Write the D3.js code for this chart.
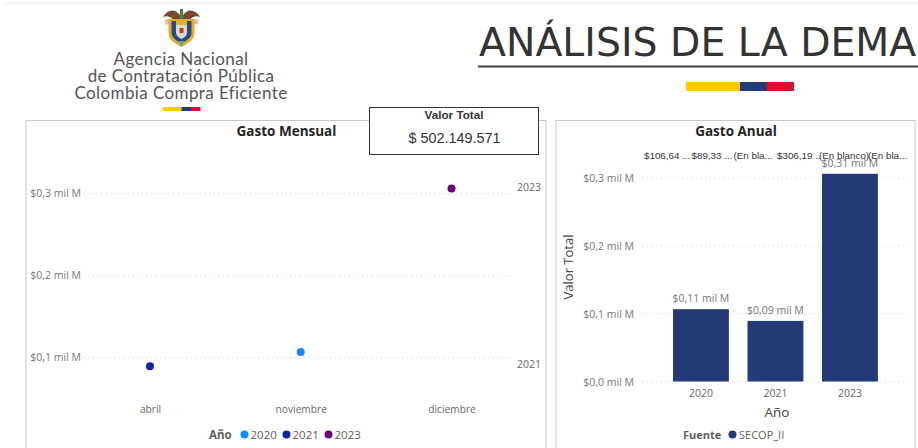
<!DOCTYPE html>
<html>
<head>
<meta charset="utf-8">
<script src="https://cdn.jsdelivr.net/npm/d3@7"></script>
<style>
  html, body { margin: 0; padding: 0; background: #fff; overflow: hidden; }
  text { font-family: "Open Sans", "Noto Sans", sans-serif; }
</style>
</head>
<body>
<div id="chart"></div>
<script>
// Gasto Mensual
const months = ["abril", "noviembre", "diciembre"];
const years = ["2020", "2021", "2023"];
const yearColors = ["#118dff", "#12239e", "#6b007b"];
const monthOfYear = ["noviembre", "abril", "diciembre"];
const yearValues = [0.10664, 0.08933, 0.30619];
const monthlyTicks = [0.1, 0.2, 0.3];

// Gasto Anual
const annualTicks = [0, 0.1, 0.2, 0.3];
const barLabels = ["$0,11 mil M", "$0,09 mil M", "$0,31 mil M"];
const topLabels = ["$106,64 ...", "$89,33 ...", "(En bla...", "$306,19 ..", "(En blanco)", "(En bla..."];
const topLabelStarts = [644, 691.5, 733.5, 777, 819, 868];

const fmtTick = d => "$" + d.toFixed(1).replace(".", ",") + " mil M";

const svg = d3.select("#chart").append("svg")
    .attr("width", 918)
    .attr("height", 448);

// top hairline
svg.append("rect").attr("x", 5).attr("y", 3).attr("width", 913).attr("height", 1).attr("fill", "#ececec");

// logo
const logo = svg.append("g");
const emblem = logo.append("g").attr("transform", "translate(181.5, 0)");
emblem.append("path").attr("d", "M-1,16 C-5,9 -13,8 -18.5,17 C-15,15.5 -12,16 -9,19 L9,19 C12,16 15,15.5 18.5,17 C13,8 5,9 1,16 Z").attr("fill", "#7a4a2c");
emblem.append("path").attr("d", "M-1.5,9 L1.5,9 L2,19 L-2,19 Z").attr("fill", "#4e7a45");
emblem.append("path").attr("d", "M-17,20 L-13,19 L-12,24 L-16,25 Z M17,20 L13,19 L12,24 L16,25 Z").attr("fill", "#e8b9a8");
emblem.append("path").attr("d", "M-13,19 L13,19 L13,33 C13,40 6,44 0,47 C-6,44 -13,40 -13,33 Z").attr("fill", "#e3ae22");
emblem.append("path").attr("d", "M-10,21 L10,21 L10,33 C10,38 4,41 0,44 C-4,41 -10,38 -10,33 Z").attr("fill", "#2b4a8b");
emblem.append("path").attr("d", "M-5.5,21 L5.5,21 L5.5,32 C5.5,36 2,38 0,39 C-2,38 -5.5,36 -5.5,32 Z").attr("fill", "#d9dcc8");
emblem.append("rect").attr("x", -2).attr("y", 28).attr("width", 4).attr("height", 5).attr("fill", "#c0392b");
emblem.append("rect").attr("x", -5.5).attr("y", 21).attr("width", 11).attr("height", 4).attr("fill", "#d9b23a");
emblem.append("path").attr("d", "M-3,41 L3,41 L0,47 Z").attr("fill", "#5fa3a8");

const logoLines = [["Agencia Nacional", 65], ["de Contratación Pública", 82], ["Colombia Compra Eficiente", 98.5]];
logo.selectAll("text.logo").data(logoLines).enter().append("text")
    .attr("class", "logo")
    .attr("x", 181)
    .attr("y", d => d[1])
    .attr("text-anchor", "middle")
    .attr("font-size", 17)
    .attr("letter-spacing", 0.4)
    .attr("fill", "#555")
    .style("font-family", "Lato, sans-serif")
    .text(d => d[0]);

const flag = (x, y, widths, h) => {
    let cx = x;
    ["#ffc800", "#223a78", "#dc0f2e"].forEach((c, i) => {
        svg.append("rect").attr("x", cx).attr("y", y).attr("width", widths[i]).attr("height", h).attr("fill", c);
        cx += widths[i];
    });
};
flag(163, 107, [18.5, 9.5, 9.5], 4);

// page title
svg.append("text")
    .attr("x", 479).attr("y", 56)
    .attr("font-size", 39.4)
    .attr("fill", "#333")
    .style("font-family", "'DejaVu Sans', sans-serif")
    .text("ANÁLISIS DE LA DEMA");
svg.append("rect").attr("x", 478).attr("y", 65.5).attr("width", 440).attr("height", 2).attr("fill", "#444");
flag(686, 82, [54, 27, 27], 9);

// panels
svg.append("rect").attr("x", 26).attr("y", 120.5).attr("width", 520).attr("height", 340)
    .attr("fill", "#fff").attr("stroke", "#c8c8c8");
svg.append("rect").attr("x", 556).attr("y", 120.5).attr("width", 359).attr("height", 340)
    .attr("fill", "#fff").attr("stroke", "#c8c8c8");

// --- Gasto Mensual ---
const xMonth = d3.scalePoint().domain(months).range([150, 451.5]);
const yMonth = d3.scaleLinear().domain([0.1, 0.3]).range([357.5, 193.5]);

svg.append("text").attr("x", 286.5).attr("y", 136)
    .attr("text-anchor", "middle").attr("font-size", 13.5).attr("font-weight", 700).attr("fill", "#252423")
    .text("Gasto Mensual");

const gm = svg.append("g");
gm.selectAll("line.grid").data(monthlyTicks).enter().append("line")
    .attr("x1", 83).attr("x2", 511)
    .attr("y1", d => yMonth(d)).attr("y2", d => yMonth(d))
    .attr("stroke", "#d9d9d9").attr("stroke-dasharray", "1.5 3");
gm.selectAll("text.tick").data(monthlyTicks).enter().append("text")
    .attr("x", 81).attr("y", d => yMonth(d) + 3.5)
    .attr("text-anchor", "end").attr("font-size", 10.5).attr("fill", "#777")
    .text(fmtTick);
gm.selectAll("text.month").data(months).enter().append("text")
    .attr("x", d => xMonth(d) + 0.5).attr("y", 413)
    .attr("text-anchor", "middle").attr("font-size", 10.2).attr("fill", "#666")
    .text(d => d);
gm.selectAll("circle.point").data(years).enter().append("circle")
    .attr("cx", (d, i) => xMonth(monthOfYear[i]))
    .attr("cy", (d, i) => yMonth(yearValues[i]))
    .attr("r", 4)
    .attr("fill", (d, i) => yearColors[i]);

// series end labels, right of the plot
[["2023", 2], ["2021", 1]].forEach(([label, i]) => {
    gm.append("text")
        .attr("x", 517)
        .attr("y", label === "2023" ? yMonth(yearValues[i]) + 3 : 368)
        .attr("font-size", 10.5).attr("fill", "#666")
        .text(label);
});

// legend
svg.append("text").attr("x", 209).attr("y", 438.5)
    .attr("font-size", 11.5).attr("font-weight", 700).attr("fill", "#605e5c").text("Año");
const legendX = d3.scalePoint().domain(years).range([244.5, 328.5]);
svg.selectAll("circle.leg").data(years).enter().append("circle")
    .attr("cx", d => legendX(d)).attr("cy", 434.5).attr("r", 4)
    .attr("fill", (d, i) => yearColors[i]);
svg.selectAll("text.leg").data(years).enter().append("text")
    .attr("x", d => legendX(d) + 6).attr("y", 438.5)
    .attr("font-size", 11.5).attr("fill", "#605e5c").text(d => d);

// --- Valor Total card ---
svg.append("rect").attr("x", 369.5).attr("y", 107.5).attr("width", 169).attr("height", 47)
    .attr("fill", "#fff").attr("stroke", "#333");
svg.append("text").attr("x", 454).attr("y", 119)
    .attr("text-anchor", "middle").attr("font-size", 11.7).attr("font-weight", 700).attr("fill", "#333")
    .style("font-family", "'Liberation Sans', sans-serif").text("Valor Total");
svg.append("text").attr("x", 454.5).attr("y", 142.5)
    .attr("text-anchor", "middle").attr("font-size", 14.4).attr("fill", "#333")
    .style("font-family", "'Liberation Sans', sans-serif").text("$ 502.149.571");

// --- Gasto Anual ---
const xYear = d3.scaleBand().domain(years).range([663.7, 887.2]).paddingInner(0.25).paddingOuter(0.125);
const yYear = d3.scaleLinear().domain([0, 0.3]).range([381.5, 178]);

svg.append("text").attr("x", 736).attr("y", 136)
    .attr("text-anchor", "middle").attr("font-size", 13.5).attr("font-weight", 700).attr("fill", "#252423")
    .text("Gasto Anual");

const ga = svg.append("g");
ga.selectAll("line.grid").data(annualTicks).enter().append("line")
    .attr("x1", 642).attr("x2", 908)
    .attr("y1", d => yYear(d)).attr("y2", d => yYear(d))
    .attr("stroke", "#d9d9d9").attr("stroke-dasharray", "1.5 3");
ga.selectAll("text.tick").data(annualTicks).enter().append("text")
    .attr("x", 634).attr("y", d => yYear(d) + 4)
    .attr("text-anchor", "end").attr("font-size", 10.5).attr("fill", "#777")
    .text(fmtTick);
ga.selectAll("rect.bar").data(years).enter().append("rect")
    .attr("x", d => xYear(d))
    .attr("width", xYear.bandwidth())
    .attr("y", (d, i) => yYear(yearValues[i]))
    .attr("height", (d, i) => yYear(0) - yYear(yearValues[i]))
    .attr("fill", "#223a78");
ga.selectAll("text.barlabel").data(years).enter().append("text")
    .attr("x", d => xYear(d) + xYear.bandwidth() / 2)
    .attr("y", (d, i) => yYear(yearValues[i]) - 7)
    .attr("text-anchor", "middle").attr("font-size", 10.5).attr("fill", "#777")
    .text((d, i) => barLabels[i]);
ga.selectAll("text.year").data(years).enter().append("text")
    .attr("x", d => xYear(d) + xYear.bandwidth() / 2).attr("y", 396.5)
    .attr("text-anchor", "middle").attr("font-size", 10.5).attr("fill", "#666")
    .text(d => d);

svg.append("text").attr("x", 777).attr("y", 417)
    .attr("text-anchor", "middle").attr("font-size", 13.5).attr("fill", "#444").text("Año");
svg.append("text")
    .attr("transform", "translate(573, 267) rotate(-90)")
    .attr("text-anchor", "middle").attr("font-size", 13).attr("fill", "#444").text("Valor Total");

ga.selectAll("text.top").data(topLabels).enter().append("text")
    .attr("x", (d, i) => topLabelStarts[i]).attr("y", 159)
    .attr("font-size", 9.8).attr("fill", "#333")
    .style("font-family", "'Liberation Sans', sans-serif")
    .text(d => d);

// legend
svg.append("text").attr("x", 683).attr("y", 438.5)
    .attr("font-size", 11).attr("font-weight", 700).attr("fill", "#605e5c").text("Fuente");
svg.append("circle").attr("cx", 732.5).attr("cy", 434.5).attr("r", 4).attr("fill", "#223a78");
svg.append("text").attr("x", 739).attr("y", 438.5)
    .attr("font-size", 11).attr("fill", "#605e5c").text("SECOP_II");
</script>
</body>
</html>
